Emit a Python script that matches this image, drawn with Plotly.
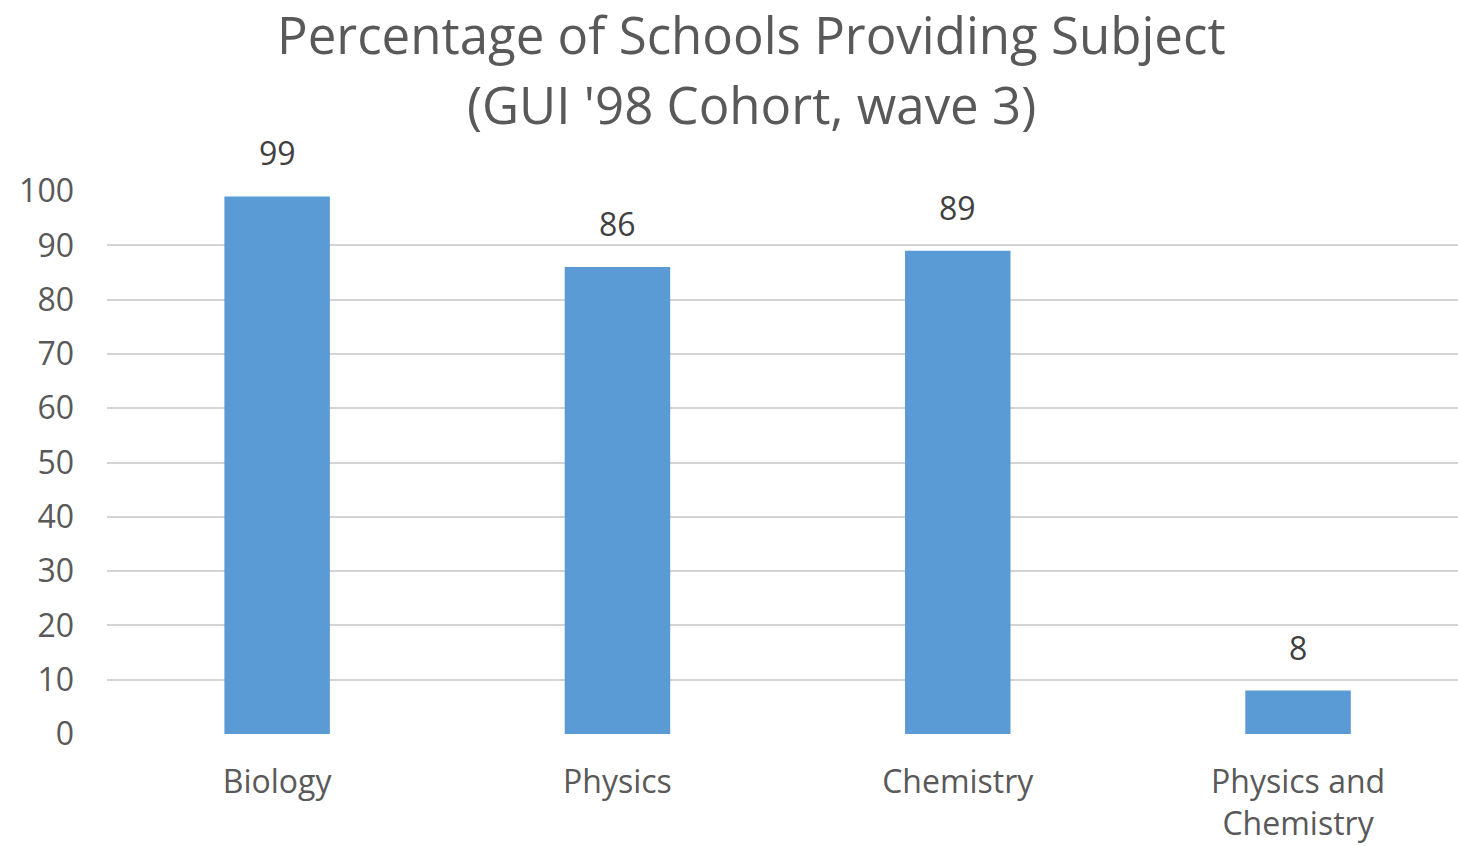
import plotly.graph_objects as go

categories = ["Biology", "Physics", "Chemistry", "Physics and Chemistry"]
tick_text = ["Biology", "Physics", "Chemistry", "Physics and<br>Chemistry"]
values = [99, 86, 89, 8]
y_ticks = [0, 10, 20, 30, 40, 50, 60, 70, 80, 90, 100]
title_lines = ["Percentage of Schools Providing Subject", "(GUI '98 Cohort, wave 3)"]

FONT = "Open Sans"
TXT = "#595959"
BAR = "#5B9BD5"

fig = go.Figure()
fig.add_trace(go.Bar(
    x=categories, y=values, marker=dict(color=BAR, line=dict(width=0)),
    width=0.31, hoverinfo="skip",
))

for c, v in zip(categories, values):
    fig.add_annotation(x=c, y=v, text=str(v), showarrow=False, xref="x", yref="y",
                       yanchor="bottom", yshift=20,
                       font=dict(family=FONT, size=32, color="#404040"))

for i, (line, ypos) in enumerate(zip(title_lines, [1.2891, 1.161])):
    fig.add_annotation(x=0.4767, y=ypos, xref="paper", yref="paper", showarrow=False,
                       xanchor="center", yanchor="middle", text=line,
                       font=dict(family=FONT, size=51, color=TXT))

fig.update_layout(
    width=1458, height=846,
    margin=dict(l=107, r=0, t=191, b=112),
    paper_bgcolor="white", plot_bgcolor="white",
    showlegend=False,
    font=dict(family=FONT, color=TXT),
    xaxis=dict(tickvals=categories, ticktext=tick_text, showgrid=False, zeroline=False,
               showline=False, ticks="", tickfont=dict(family=FONT, size=32, color=TXT),
               ticklabelstandoff=26, range=[-0.5, 3.47]),
    yaxis=dict(range=[0, 100], tickvals=y_ticks, showgrid=True, gridcolor="#D4D4D4",
               gridwidth=2, zeroline=False, showline=False, ticks="",
               tickfont=dict(family=FONT, size=32, color=TXT), ticklabelstandoff=32),
)

fig.write_html("out.html")
